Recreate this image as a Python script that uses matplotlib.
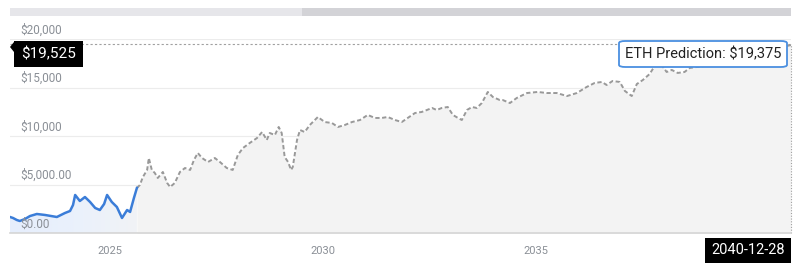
import numpy as np
import matplotlib
matplotlib.use("Agg")
import matplotlib.pyplot as plt
from matplotlib.patches import Rectangle, FancyBboxPatch, Polygon
from matplotlib.colors import LinearSegmentedColormap

plt.rcParams["font.family"] = ["Roboto", "DejaVu Sans"]

# historical price (decimal year, USD)
hist_years = [2022.65, 2022.72, 2022.81, 2022.88, 2023.00, 2023.12, 2023.28, 2023.47,
              2023.75, 2023.94, 2024.06, 2024.13, 2024.18, 2024.29, 2024.41, 2024.53,
              2024.65, 2024.76, 2024.86, 2024.93, 2025.04, 2025.16, 2025.28, 2025.40,
              2025.47, 2025.56, 2025.63]
hist_price = [1650, 1550, 1340, 1240, 1440, 1750, 1960, 1860,
              1650, 2060, 2270, 2890, 3920, 3300, 3710, 3200,
              2580, 2370, 2990, 3920, 3200, 2680, 1550, 2370,
              2170, 3610, 4640]

# predicted price
pred_years = [2025.63, 2025.70, 2025.77, 2025.87, 2025.91, 2025.98, 2026.05, 2026.12,
              2026.24, 2026.34, 2026.41, 2026.52, 2026.64, 2026.76, 2026.88, 2026.97,
              2027.06, 2027.16, 2027.30, 2027.46, 2027.58, 2027.74, 2027.88, 2028.00,
              2028.12, 2028.28, 2028.45, 2028.57, 2028.68, 2028.75, 2028.87, 2028.96,
              2029.03, 2029.10, 2029.18, 2029.25, 2029.29, 2029.39, 2029.46, 2029.57,
              2029.69, 2029.88, 2030.04, 2030.21, 2030.35, 2030.51, 2030.68, 2030.87,
              2031.05, 2031.22, 2031.38, 2031.52, 2031.69, 2031.85, 2031.99, 2032.16,
              2032.32, 2032.44, 2032.56, 2032.67, 2032.79, 2032.93, 2033.05, 2033.17,
              2033.26, 2033.38, 2033.50, 2033.61, 2033.73, 2033.87, 2033.99, 2034.15,
              2034.22, 2034.39, 2034.55, 2034.79, 2035.04, 2035.26, 2035.49, 2035.73,
              2035.96, 2036.19, 2036.38, 2036.55, 2036.66, 2036.80, 2036.97, 2037.09,
              2037.25, 2037.37, 2037.51, 2037.67, 2037.79, 2037.95, 2038.07, 2038.19,
              2038.33, 2038.49, 2038.61, 2038.78, 2038.85, 2039.20, 2039.60, 2040.00,
              2040.50, 2040.99]
pred_price = [4640, 4950, 5770, 6500, 7730, 6500, 6190, 5670,
              6290, 5160, 4740, 5160, 6290, 6700, 6500, 7530,
              8250, 7730, 7320, 7730, 7320, 6700, 6500, 8040,
              8760, 9280, 9790, 10410, 9590, 10310, 10100, 10930,
              10310, 7840, 7320, 6500, 6800, 9590, 10620, 10410,
              11130, 11960, 11440, 11340, 10930, 11130, 11440, 11650,
              12170, 11860, 11860, 11960, 11650, 11440, 11860, 12370,
              12480, 12680, 12890, 12680, 12890, 12990, 12170, 11860,
              11650, 12680, 12990, 12890, 13400, 14540, 14020, 13710,
              13710, 13400, 13920, 14430, 14540, 14430, 14430, 14120,
              14430, 15050, 15470, 15570, 15260, 15670, 15570, 14640,
              14120, 15360, 15770, 16390, 17220, 17320, 16600, 16810,
              16500, 16600, 17010, 17120, 17120, 17500, 18200, 18000,
              18900, 19375]

y_ticks = [0, 5000, 10000, 15000, 20000]
y_labels = ["$0.00", "$5,000.00", "$10,000", "$15,000", "$20,000"]
x_ticks = [2025, 2030, 2035]
cursor_price = 19525
cursor_date = "2040-12-28"
pred_label = "ETH Prediction: $19,375"

W, H = 797, 267
fig = plt.figure(figsize=(W / 100, H / 100), dpi=100)
ax = fig.add_axes([10 / W, (H - 233) / H, 781 / W, 194 / H])
x0, x1 = 2022.65, 2040.99
ax.set_xlim(x0, x1)
ax.set_ylim(0, 20000)

# fills
ax.fill_between(pred_years, pred_price, 0, color="#f3f3f3", lw=0, zorder=1)
hist_fill = ax.fill_between(hist_years, hist_price, 0, color="none", lw=0, zorder=1)
grad = LinearSegmentedColormap.from_list("g", ["#e6eefc", "#eaf1fc", "#f1f3f6"])
img = ax.imshow(np.linspace(0, 1, 256)[None, :], cmap=grad, aspect="auto",
                extent=[hist_years[0], hist_years[-1], 0, 5000], zorder=1)
img.set_clip_path(hist_fill.get_paths()[0], transform=ax.transData)
ax.set_xlim(x0, x1)
ax.set_ylim(0, 20000)

# gridlines
for v in y_ticks[1:]:
    ax.axhline(v, color="#ececec", lw=0.8, zorder=0.5)

ax.plot(pred_years, pred_price, color="#999999", lw=1.4, dashes=(2.2, 1.3), zorder=3)
ax.plot(hist_years, hist_price, color="#3b7dd8", lw=1.8, zorder=4)

# y labels inside plot
for v, lab in zip(y_ticks, y_labels):
    ax.text(x0 + 0.24, v + 250, lab, fontsize=8.5, color="#8a8f96",
            ha="left", va="bottom", zorder=5)

ax.set_xticks(x_ticks)
ax.set_xticklabels([str(t) for t in x_ticks], fontsize=8, color="#8a8f96")
ax.tick_params(axis="x", length=0, pad=9)
ax.set_yticks([])
for s in ["top", "right", "left"]:
    ax.spines[s].set_visible(False)
ax.spines["bottom"].set_color("#d5d5d5")
ax.spines["bottom"].set_linewidth(1.2)

# crosshair
ax.axhline(cursor_price, color="#a0a0a0", lw=0.8, dashes=(2, 2), zorder=2)
ax.plot([x1, x1], [0, cursor_price], color="#a0a0a0", lw=0.8, dashes=(1, 1.5),
        zorder=2, clip_on=False)

# top scroll bar
fig.patches.append(Rectangle((10 / W, (H - 16) / H), 292 / W, 8 / H,
                             transform=fig.transFigure, color="#e6e6ea", lw=0))
fig.patches.append(Rectangle((302 / W, (H - 16) / H), 489 / W, 8 / H,
                             transform=fig.transFigure, color="#d3d3d7", lw=0))

# price label (left)
fig.patches.append(Rectangle((14 / W, (H - 67) / H), 69 / W, 26 / H,
                             transform=fig.transFigure, color="black", lw=0, zorder=6))
fig.patches.append(Polygon([(10 / W, (H - 47) / H), (14 / W, (H - 42) / H),
                            (14 / W, (H - 52) / H)], closed=True,
                           transform=fig.transFigure, color="black", lw=0, zorder=6))
fig.text(48.5 / W, (H - 54) / H, f"${cursor_price:,}", color="white", fontsize=11,
         ha="center", va="center", zorder=7)

# date label (bottom right)
fig.patches.append(Rectangle((705 / W, (H - 263) / H), 86 / W, 25 / H,
                             transform=fig.transFigure, color="black", lw=0, zorder=6))
fig.text(748 / W, (H - 250.5) / H, cursor_date, color="white", fontsize=10.5,
         ha="center", va="center", zorder=7)

# prediction tooltip
fig.patches.append(FancyBboxPatch((619 / W, (H - 67) / H), 168 / W, 26 / H,
                                  boxstyle="round,pad=0,rounding_size=0.008",
                                  transform=fig.transFigure, facecolor="white",
                                  edgecolor="#4a8fe0", lw=1.3, zorder=6))
fig.text(703 / W, (H - 54) / H, pred_label, color="#222222", fontsize=10.5,
         ha="center", va="center", zorder=7)

fig.savefig("out.png", dpi=100)
